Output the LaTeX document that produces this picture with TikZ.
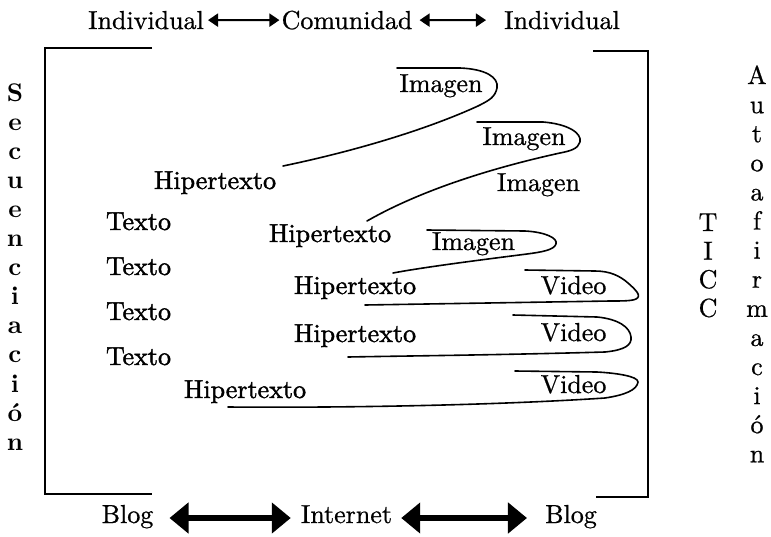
\documentclass[tikz,border=0pt]{standalone}
\usepackage{fontspec}
\setmainfont{lmroman10-regular.otf}[BoldFont=lmroman10-bold.otf]
\newfontfamily\mediumfont{lmroman10-regular.otf}[FakeBold=0.7]
\newfontfamily\heavyfont{lmroman10-regular.otf}[FakeBold=1.6]
\usetikzlibrary{arrows.meta}
\begin{document}
\begin{tikzpicture}[x=1pt,y=-1pt,
  lbl/.style={inner sep=0pt, anchor=base, font=\mediumfont\fontsize{26}{30}\selectfont},
  heavylbl/.style={inner sep=0pt, anchor=base, font=\heavyfont\fontsize{26}{30}\selectfont},
  colletter/.style={inner sep=0pt, anchor=base, font=\mediumfont\fontsize{26}{30}\selectfont},
  boldletter/.style={inner sep=0pt, anchor=base, font=\bfseries\fontsize{25.5}{30}\selectfont},
  frame/.style={line width=1.6pt},
  loopline/.style={line width=1.6pt, line join=round, line cap=round},
  thinarrow/.style={line width=2pt, {Triangle[length=10pt,width=13pt]}-{Triangle[length=10pt,width=13pt]}},
  thickarrow/.style={line width=5.5pt, {Triangle[length=19pt,width=30pt]}-{Triangle[length=19pt,width=30pt]}}
]
\useasboundingbox (0,0) rectangle (771,536);

% top row
\node[lbl] (ind1) at (146,29) {Individual};
\node[lbl] (com)  at (347,29) {Comunidad};
\node[lbl] (ind2) at (562,29) {Individual};
\draw[thinarrow] ([xshift=4pt]ind1.east) -- ([xshift=-2pt]com.west);
\draw[thinarrow] ([xshift=7pt]com.east) -- ([xshift=-18pt]ind2.west);

% bottom row
\node[lbl] (blog1) at (127.5,523) {Blog};
\node[lbl] (net)   at (346.5,523) {Internet};
\node[lbl] (blog2) at (571,523) {Blog};
\draw[thickarrow] ([shift={(16pt,5pt)}]blog1.base east) -- ([shift={(-10pt,5pt)}]net.base west);
\draw[thickarrow] ([shift={(9pt,5pt)}]net.base east) -- ([shift={(-18pt,5pt)}]blog2.base west);

% brackets
\draw[frame] (152,48) -- (45,48) -- (45,494) -- (152,494);
\draw[frame] (593,51) -- (648,51) -- (648,497) -- (596,497);

% left column
\foreach \ch [count=\k from 0] in {S,e,c,u,e,n,c,i,a,c,i,ó,n}
  \node[boldletter] (sec\k) at (15,101+29.1*\k) {\ch};

% right column
\foreach \ch [count=\k from 0] in {A,u,t,o,a,f,i,r,m,a,c,i,ó,n}
  \node[colletter] (aut\k) at (757,84+29.1*\k) {\ch};
\foreach \ch [count=\k from 0] in {T,I,C,C}
  \node[colletter] (ticc\k) at (708,231+28.6*\k) {\ch};

% texts inside the frame
\node[lbl] (img1) at (441,92) {Imagen};
\node[lbl] (img2) at (524,145) {Imagen};
\node[lbl] (img3) at (538.5,191) {Imagen};
\node[lbl] (img4) at (473.5,250) {Imagen};

\node[heavylbl] (hip1) at (215,189) {Hipertexto};
\node[heavylbl] (hip2) at (330,242) {Hipertexto};
\node[heavylbl] (hip3) at (355,294) {Hipertexto};
\node[heavylbl] (hip4) at (355,342) {Hipertexto};
\node[heavylbl] (hip5) at (245,398) {Hipertexto};

\node[heavylbl] (tx1) at (138.5,230) {Texto};
\node[heavylbl] (tx2) at (138.5,275) {Texto};
\node[heavylbl] (tx3) at (138.5,320) {Texto};
\node[heavylbl] (tx4) at (138.5,365) {Texto};

\node[lbl] (vid1) at (573.5,294) {Video};
\node[lbl] (vid2) at (573.5,341) {Video};
\node[lbl] (vid3) at (573.5,393) {Video};

% loop ends
\coordinate (s1) at (397,68);   \coordinate (e1) at (283,166);
\coordinate (s2) at (477,122);  \coordinate (e2) at (367,221);
\coordinate (s3) at (427,230);  \coordinate (e3) at (393,273);
\coordinate (s4) at (525,270);  \coordinate (e4) at (365,305);
\coordinate (s5) at (513,315);  \coordinate (e5) at (348,357);
\coordinate (s6) at (515,371);  \coordinate (e6) at (228,407);

% loops wrapping each label and running back to a Hipertexto
\draw[loopline] (s1) -- (460,68) .. controls (485,69) and (499,77) .. (497,88)
  .. controls (495,97) and (490,100) .. (478,106)
  .. controls (430,128) and (360,150) .. (e1);
\draw[loopline] (s2) -- (543,122) .. controls (568,124) and (582,133) .. (580,142)
  .. controls (578,149) and (570,151) .. (560,153)
  .. controls (510,164) and (430,185) .. (e2);
\draw[loopline] (s3) -- (525,231) .. controls (545,232) and (558,238) .. (556,244)
  .. controls (554,250) and (542,252) .. (527,254)
  .. controls (480,260) and (425,267) .. (e3);
\draw[loopline] (s4) -- (595,271) .. controls (610,271) and (620,276) .. (628,283)
  .. controls (636,290) and (642,296) .. (636,299)
  .. controls (632,301) and (622,301) .. (610,301) -- (e4);
\draw[loopline] (s5) -- (597,317) .. controls (618,319) and (630,327) .. (631,337)
  .. controls (632,345) and (625,350) .. (605,352)
  .. controls (500,355) and (400,356) .. (e5);
\draw[loopline] (s6) -- (597,372) .. controls (615,373) and (638,376) .. (638,382)
  .. controls (637,390) and (625,395) .. (605,398)
  .. controls (500,405) and (350,408) .. (e6);
\end{tikzpicture}
\end{document}
